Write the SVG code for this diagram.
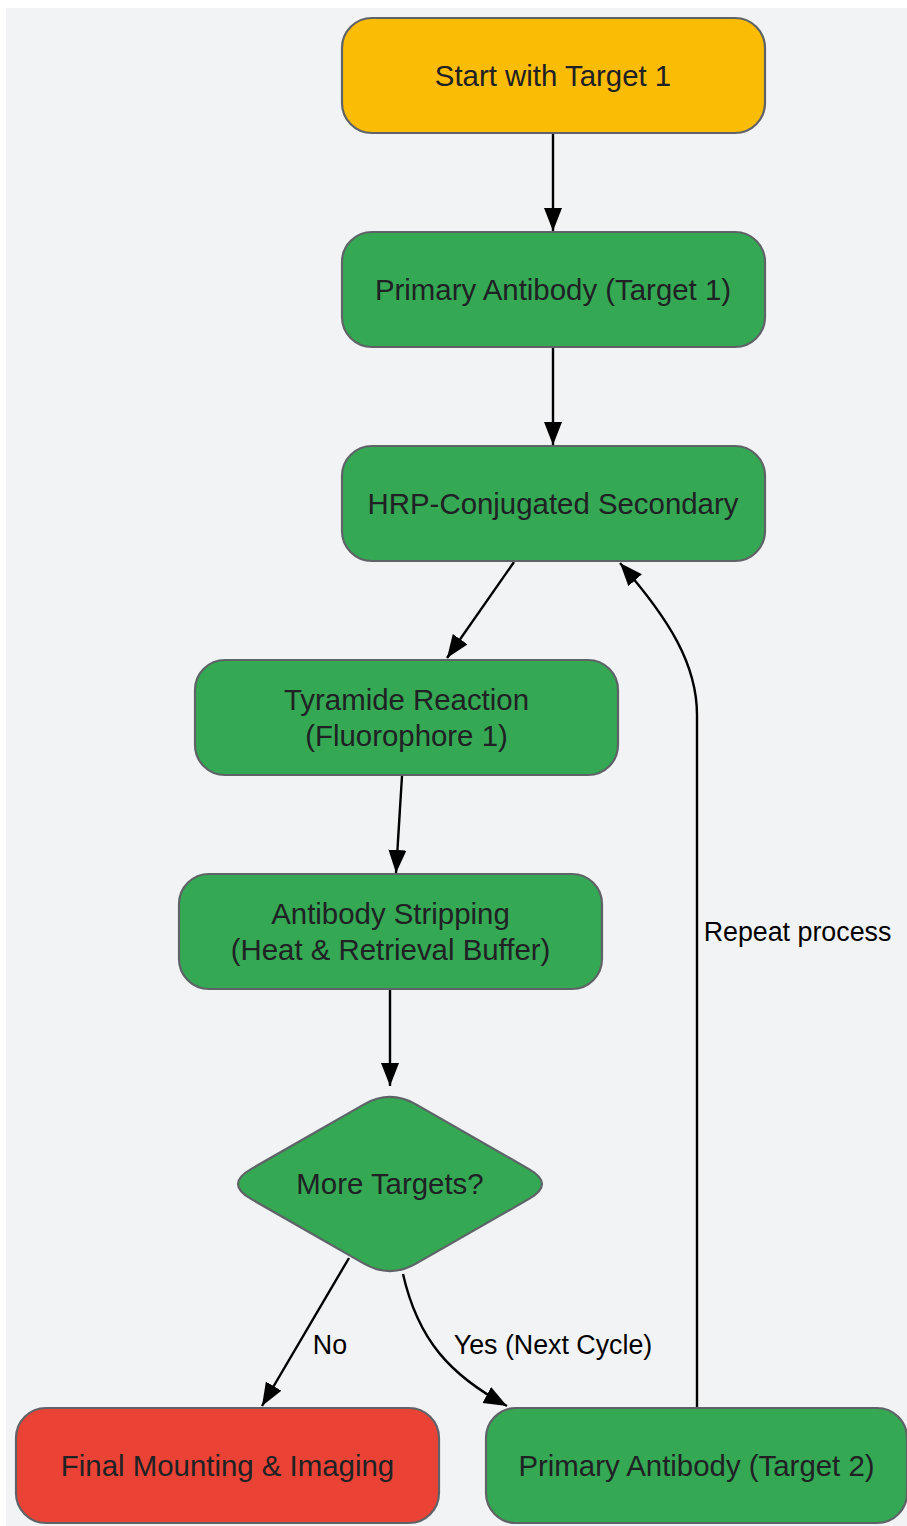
<svg xmlns="http://www.w3.org/2000/svg" width="907" height="1526" viewBox="0 0 907 1526">
<defs>
<style>
.node rect, .node path { stroke:#5f6368; stroke-width:2.2; }
.green { fill:#34a853; }
.yellow { fill:#fbbc05; }
.red { fill:#ea4335; }
.nt { font-family:"Liberation Sans", Arial, sans-serif; font-size:29.4px; fill:#202124; text-anchor:middle; }
.el { font-family:"Liberation Sans", Arial, sans-serif; font-size:26.8px; fill:#000; text-anchor:middle; }
.edge { fill:none; stroke:#000; stroke-width:2.4; marker-end:url(#arr); }
</style>
<marker id="arr" markerUnits="userSpaceOnUse" markerWidth="26" markerHeight="20" refX="23" refY="9" orient="auto">
<path d="M0,0 L23,9 L0,18 z" fill="#000"/>
</marker>
</defs>
<rect x="0" y="0" width="907" height="1526" fill="#ffffff"/>
<rect x="6" y="8" width="901" height="1518" fill="#f1f3f4"/>

<g id="connectors">
<path class="edge" d="M553,134 L553,231"/>
<path class="edge" d="M553,348 L553,445"/>
<path class="edge" d="M514,562 L447,658"/>
<path class="edge" d="M402,776 L396,873"/>
<path class="edge" d="M390,990 L390,1086"/>
<path class="edge" d="M349,1258 L262,1406"/>
<path class="edge" d="M403,1274 C418,1340 450,1375 507,1406"/>
<path class="edge" d="M697,1407 L697,715 C697,665 670,620 620,563"/>
<text class="el" x="797.5" y="941">Repeat process</text>
<text class="el" x="330" y="1354">No</text>
<text class="el" x="553" y="1354">Yes (Next Cycle)</text>
</g>

<g id="start" class="node">
<rect class="yellow" x="342" y="18" width="423" height="115" rx="30"/>
<text class="nt" x="553" y="86">Start with Target 1</text>
</g>
<g id="primary1" class="node">
<rect class="green" x="342" y="232" width="423" height="115" rx="30"/>
<text class="nt" x="553" y="300">Primary Antibody (Target 1)</text>
</g>
<g id="hrp" class="node">
<rect class="green" x="342" y="446" width="423" height="115" rx="30"/>
<text class="nt" x="553" y="514">HRP-Conjugated Secondary</text>
</g>
<g id="tyramide" class="node">
<rect class="green" x="195" y="660" width="423" height="115" rx="30"/>
<text class="nt" x="406.5" y="710">Tyramide Reaction</text>
<text class="nt" x="406.5" y="746">(Fluorophore 1)</text>
</g>
<g id="stripping" class="node">
<rect class="green" x="179" y="874" width="423" height="115" rx="30"/>
<text class="nt" x="390.5" y="924">Antibody Stripping</text>
<text class="nt" x="390.5" y="960">(Heat &amp; Retrieval Buffer)</text>
</g>
<g id="decision" class="node">
<path class="green" d="M364,1104.4 Q390,1089.5 416,1104.4 L529,1169.1 Q555,1184 529,1198.9 L416,1263.6 Q390,1278.5 364,1263.6 L251,1198.9 Q225,1184 251,1169.1 Z"/>
<text class="nt" x="390" y="1194">More Targets?</text>
</g>
<g id="final" class="node">
<rect class="red" x="16" y="1408" width="423" height="115" rx="30"/>
<text class="nt" x="227.5" y="1476">Final Mounting &amp; Imaging</text>
</g>
<g id="primary2" class="node">
<rect class="green" x="486" y="1408" width="421" height="115" rx="30"/>
<text class="nt" x="696.5" y="1476">Primary Antibody (Target 2)</text>
</g>
</svg>
